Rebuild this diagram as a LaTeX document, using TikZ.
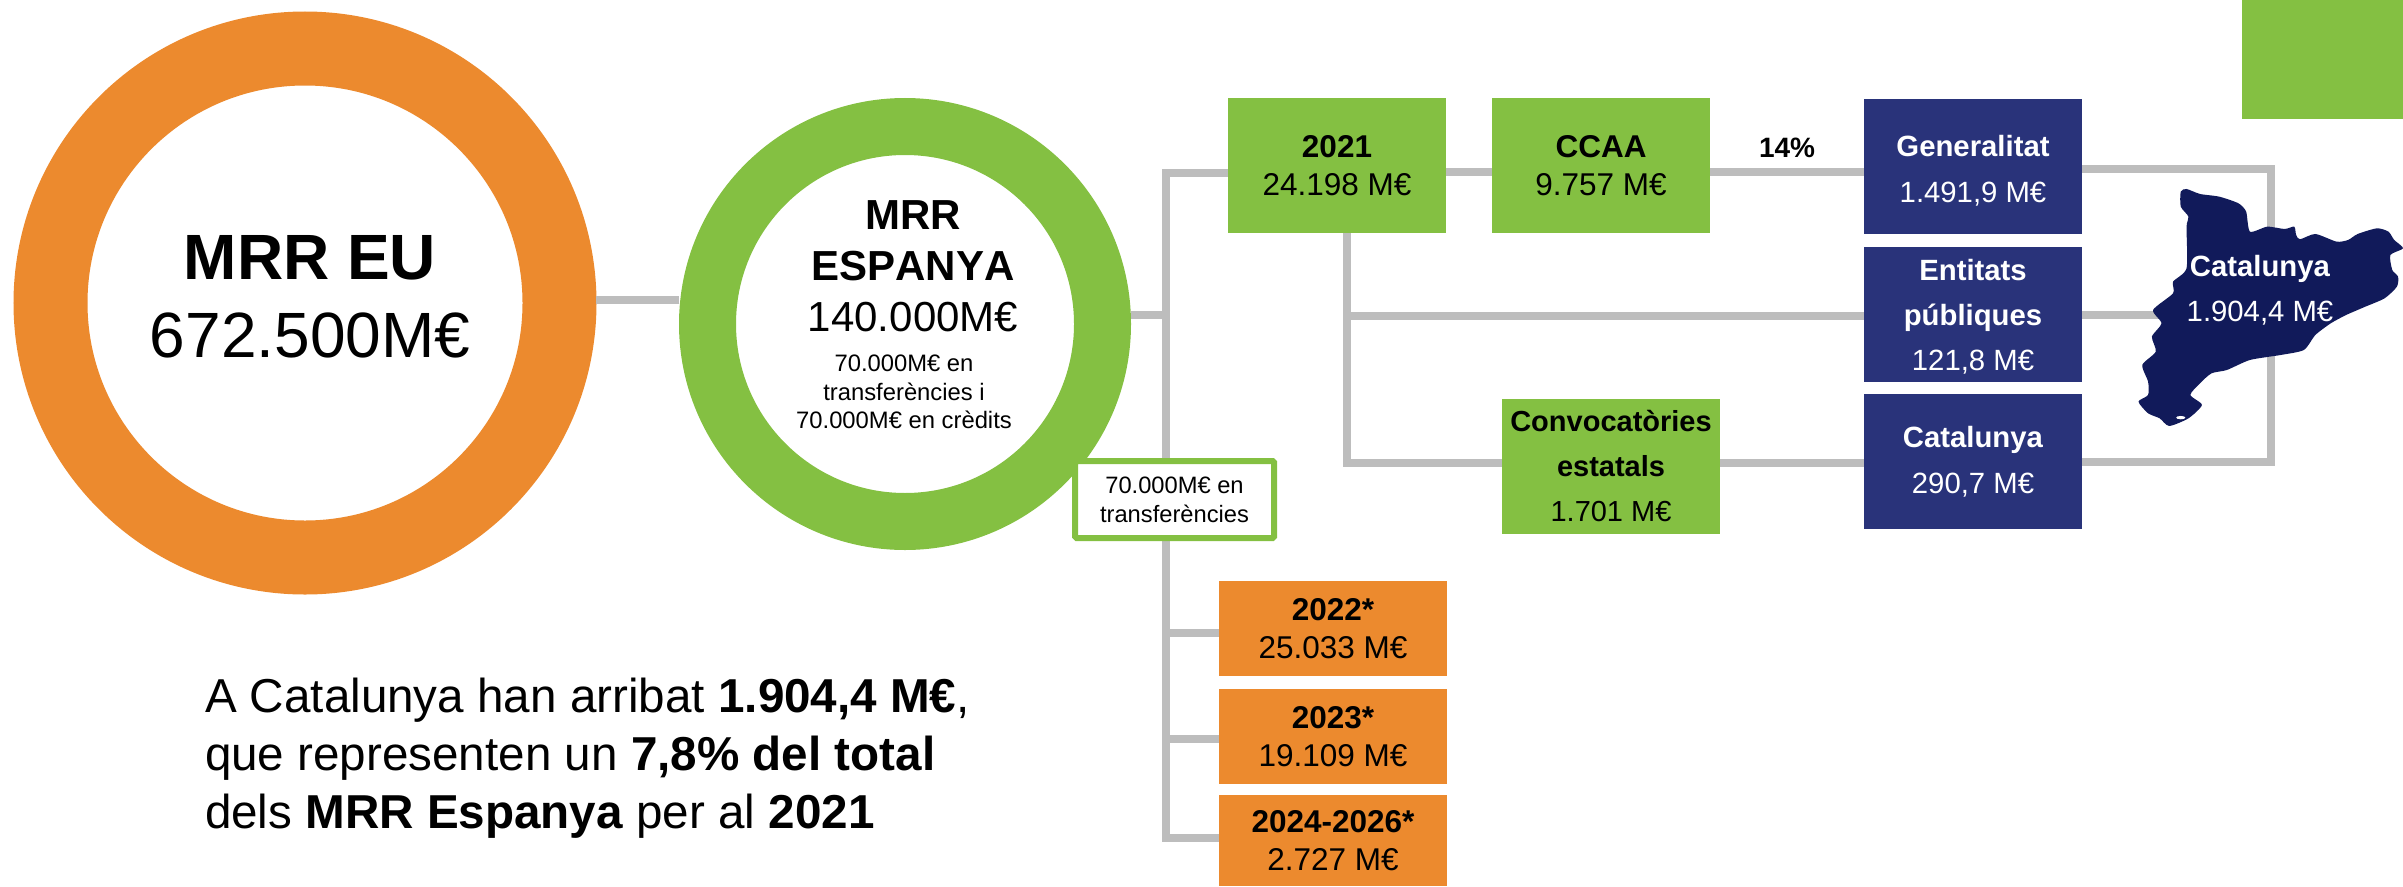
\documentclass[tikz,border=0pt]{standalone}
\usepackage{fontspec}
\setmainfont[Kerning=Off]{Liberation Sans}
\usepackage{xcolor}
\usetikzlibrary{positioning, calc}
\definecolor{mrrgreen}{HTML}{84C042}
\definecolor{mrrorange}{HTML}{EC8A2E}
\definecolor{mrrnavy}{HTML}{29337A}
\definecolor{mapnavy}{HTML}{111A5A}
\definecolor{linegrey}{HTML}{BDBDBD}
\newcommand{\px}[2]{\fontsize{#1}{#2}\selectfont}
\newcommand{\tallfirst}[1]{\rule{0pt}{#1}}

\begin{document}
\begin{tikzpicture}[
        x=1pt, y=-1pt,
        every node/.style={align=center, inner sep=0pt, outer sep=0pt, text=black},
        greenbox/.style={fill=mrrgreen, minimum width=218pt, minimum height=135pt, font=\px{31.5}{38}},
        navybox/.style={fill=mrrnavy, text=white, minimum width=218pt, minimum height=135pt, font=\px{29.3}{46}},
        orangebox/.style={fill=mrrorange, minimum width=228pt, minimum height=95pt, font=\px{31.5}{38}},
        link/.style={draw=linegrey, line width=7.5pt}
        ]
        \useasboundingbox (0,0) rectangle (2403,886);

        % Nodes
        \node[circle, draw=mrrorange, fill=white, line width=74pt, outer sep=37pt, minimum size=509pt] (eu) at (305,303) {};
        \node[font=\px{64}{78}] (eutext) at (310,297) {\textbf{MRR EU}\\672.500M€};
        \node[circle, draw=mrrgreen, fill=white, line width=57pt, outer sep=28.5pt, minimum size=395pt] (esp) at (905,324) {};
        \node[font=\px{42}{51}] (esptitle) at (913,266) {\textbf{MRR}\\\textbf{ESPANYA}\\140.000M€};
        \node[font=\px{23.8}{28.5}] (espnote) at (904,392) {70.000M€ en\\transferències i\\70.000M€ en crèdits};

        \node[greenbox, anchor=north west] (year2021) at (1228,98) {\textbf{2021}\\24.198 M€};
        \node[greenbox, right=46pt of year2021] (ccaa) {\textbf{CCAA}\\9.757 M€};
        \node[navybox, right=154pt of ccaa, yshift=-1pt] (generalitat) {\tallfirst{30pt}\textbf{Generalitat}\\1.491,9 M€};
        \node[navybox, font=\px{29.3}{45}, below=13pt of generalitat] (entitats) {\tallfirst{26pt}\textbf{Entitats}\\\textbf{públiques}\\121,8 M€};
        \node[navybox, below=12pt of entitats] (catbox) {\textbf{Catalunya}\\290,7 M€};
        \node[greenbox, font=\px{29}{45}, left=144pt of catbox, yshift=-5pt] (convoc) {\textbf{Convocatòries}\\\textbf{estatals}\\1.701 M€};
        \node[font=\bfseries\px{28}{34}] (share) at (1787,148) {14\%};

        \node[orangebox, anchor=north west] (year2022) at (1219,581) {\textbf{2022*}\\25.033 M€};
        \node[orangebox, below=13pt of year2022] (year2023) {\textbf{2023*}\\19.109 M€};
        \node[orangebox, below=11pt of year2023, minimum height=91pt] (year2024) {\textbf{2024-2026*}\\2.727 M€};

        \node[anchor=north east, fill=mrrgreen, minimum width=161pt, minimum height=119pt] (corner) at (2403,0) {};
        \node[anchor=west, align=left, font=\px{47.6}{58}] (summary) at (205,758) {A Catalunya han arribat \textbf{1.904,4 M€},\\que representen un \textbf{7,8\% del total}\\dels \textbf{MRR Espanya} per al \textbf{2021}};

        % Junctions
        \coordinate (eujoin) at (596,300);
        \coordinate (trunktop) at (1166,173);
        \coordinate (trunkmid) at (1166,315);
        \coordinate (trunkfoot) at (1166,838);
        \coordinate (branch22) at (1166,633);
        \coordinate (branch23) at (1166,739);
        \coordinate (rowline) at (1600,172);
        \coordinate (splitmid) at (1347,316);
        \coordinate (splitfoot) at (1347,463);
        \coordinate (mapside) at (2271,169);
        \coordinate (mapfoot) at (2271,462);
        \coordinate (mapedge) at (2170,315);

        % Lines
        \draw[link] (eujoin) -- (eujoin -| esp.west);
        \draw[link] (trunkmid -| esp.east) -- (trunkmid);
        \draw[link] (year2021.west |- trunktop) -- (trunktop) -- (trunkfoot) -- (year2024.west |- trunkfoot);
        \draw[link] (branch22) -- (branch22 -| year2022.west);
        \draw[link] (branch23) -- (branch23 -| year2023.west);
        \draw[link] (year2021.east |- rowline) -- (ccaa.west |- rowline);
        \draw[link] (ccaa.east |- rowline) -- (generalitat.west |- rowline);
        \draw[link] (splitfoot |- year2021.south) -- (splitfoot) -- (convoc.west |- splitfoot);
        \draw[link] (splitmid) -- (splitmid -| entitats.west);
        \draw[link] (convoc.east |- splitfoot) -- (catbox.west |- splitfoot);
        \draw[link] (generalitat.east |- mapside) -- (mapside) -- (mapfoot) -- (catbox.east |- mapfoot);
        \draw[link] (entitats.east |- mapedge) -- (mapedge);

        \node[draw=mrrgreen, fill=white, line width=6pt, rounded corners=1.5pt, minimum width=199pt, minimum height=77pt, font=\px{23.7}{29}] (transfers) at (1174.5,499.5) {70.000M€ en\\transferències};

        % Map
        \begin{scope}[shift={(1800,80)}, x=0.3846pt, y=-0.3333pt]
            \fill[mapnavy] plot[smooth cycle, tension=0.4] coordinates {
                (990,335) (1005,327) (1040,342) (1090,350) (1140,370) (1160,395) (1170,455)
                (1215,440) (1260,447) (1285,440) (1290,465) (1300,478) (1340,462) (1395,485)
                (1425,480) (1450,462) (1500,445) (1530,455) (1545,480) (1568,505) (1535,525)
                (1540,570) (1555,590) (1552,620) (1520,655) (1470,680) (1420,705) (1380,730)
                (1340,765) (1310,810) (1250,825) (1170,840) (1110,870) (1070,880) (1040,910)
                (1015,945) (1045,975) (1010,1015) (960,1038) (935,1015) (905,1000) (880,965)
                (905,945) (905,905) (890,855) (925,815) (915,770) (940,730) (918,690)
                (970,640) (970,605) (1005,565) (1005,440) (1010,410) (990,380)};
            \fill[white] (990,1013) ellipse (12 and 5);
        \end{scope}
        \node[text=white, font=\px{29.3}{45}] (catmap) at (2260,290) {\textbf{Catalunya}\\1.904,4 M€};

\end{tikzpicture}
\end{document}
